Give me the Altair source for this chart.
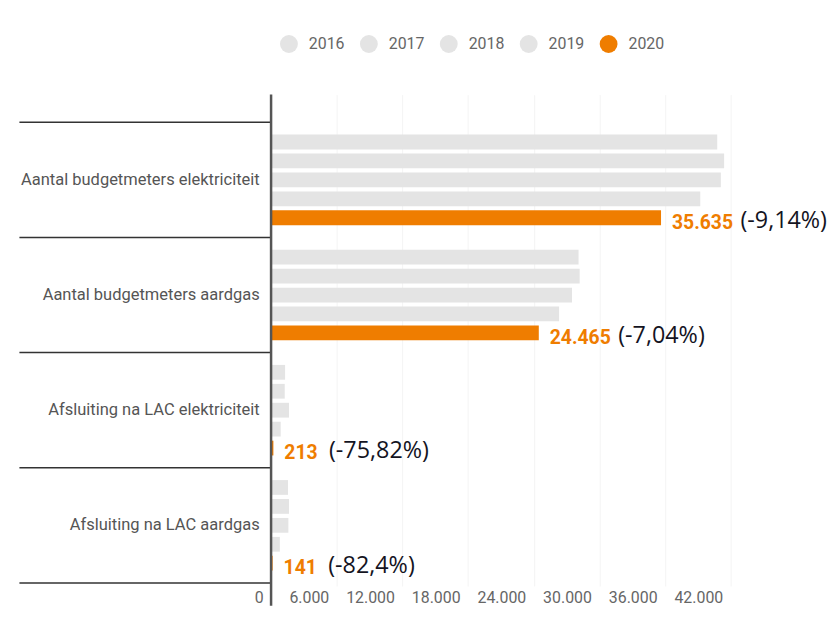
import altair as alt
import pandas as pd

categories = [
    "Aantal budgetmeters elektriciteit",
    "Aantal budgetmeters aardgas",
    "Afsluiting na LAC elektriciteit",
    "Afsluiting na LAC aardgas",
]
years = ["2016", "2017", "2018", "2019", "2020"]
v2016 = [40770, 28100, 1280, 1550]
v2017 = [41400, 28200, 1250, 1640]
v2018 = [41100, 27500, 1640, 1580]
v2019 = [39220, 26320, 881, 801]
v2020 = [35635, 24465, 213, 141]
pct_labels = ["(-9,14%)", "(-7,04%)", "(-75,82%)", "(-82,4%)"]
x_ticks = [0, 6000, 12000, 18000, 24000, 30000, 36000, 42000]
year_colors = ["#e4e4e4", "#e4e4e4", "#e4e4e4", "#e4e4e4", "#ef7d00"]

rows = []
for i, c in enumerate(categories):
    for y, vals in zip(years, [v2016, v2017, v2018, v2019, v2020]):
        rows.append({"cat": c, "year": y, "value": vals[i]})
df = pd.DataFrame(rows)

lab = pd.DataFrame({
    "cat": categories,
    "year": ["2020"] * len(categories),
    "value": v2020,
    "vlabel": [f"{v:,}".replace(",", ".") for v in v2020],
    "pct": pct_labels,
    "big": [v >= 1000 for v in v2020],
})
cats_df = pd.DataFrame({"cat": categories})

ysc = alt.Scale(domain=categories, paddingInner=0, paddingOuter=0.1336, align=0.9)
yosc = alt.Scale(domain=years, paddingInner=0.22, paddingOuter=0.65)
xsc = alt.Scale(domain=[0, 43000], nice=False)

Y = alt.Y("cat:N", sort=categories, scale=ysc,
          axis=alt.Axis(title=None, domain=False, ticks=False, labelFontSize=16.6,
                        labelColor="#555555", labelPadding=12, labelLimit=400,
                        labelFont="Roboto"))
YO = alt.YOffset("year:N", sort=years, scale=yosc)

bars = alt.Chart(df).mark_bar().encode(
    x=alt.X("value:Q", scale=xsc,
            axis=alt.Axis(values=x_ticks, title=None, domain=False, ticks=False,
                          grid=True, gridColor="#f4f4f4", gridWidth=1,
                          labelExpr="replace(format(datum.value, ','), ',', '.')",
                          labelAlign="right", labelOffset=-8, labelFontSize=16,
                          labelColor="#666666", labelPadding=4, labelFont="Roboto")),
    y=Y,
    yOffset=YO,
    color=alt.Color("year:N", sort=years,
                    scale=alt.Scale(domain=years, range=year_colors),
                    legend=alt.Legend(orient="none", direction="horizontal",
                                      legendX=9, legendY=-60, title=None,
                                      symbolType="circle", symbolSize=324,
                                      symbolStrokeWidth=0, symbolOpacity=1,
                                      labelFontSize=16, labelColor="#666666",
                                      labelFont="Roboto", labelOffset=11,
                                      columnPadding=15.5, padding=0)),
)

seps = alt.Chart(cats_df).mark_rule(color="#333333", strokeWidth=1.5).encode(
    y=alt.Y("cat:N", sort=categories, bandPosition=0),
    x=alt.value(-253.5), x2=alt.value(0),
)
sep_last = alt.Chart(cats_df).mark_rule(color="#333333", strokeWidth=1.5).encode(
    y=alt.Y("cat:N", sort=categories, bandPosition=1),
    x=alt.value(-253.5), x2=alt.value(0),
).transform_filter(alt.datum.cat == categories[-1])

yline = alt.Chart(pd.DataFrame({"a": [0]})).mark_rule(color="#555555", strokeWidth=2.5).encode(
    x=alt.value(0), y=alt.value(0), y2=alt.value(515),
)

vtext = alt.Chart(lab).mark_text(align="left", baseline="middle", dx=11, dy=5,
                                 font="Roboto", fontSize=19.5, fontWeight="bold",
                                 color="#ef7d00").encode(
    x=alt.X("value:Q"), y=alt.Y("cat:N", sort=categories), yOffset=alt.YOffset("year:N", sort=years),
    text="vlabel:N",
)
pbig = alt.Chart(lab).transform_filter(alt.datum.big).mark_text(
    align="left", baseline="middle", dx=80, dy=3, font="Open Sans", fontSize=23.5,
    color="#14141f").encode(
    x=alt.X("value:Q"), y=alt.Y("cat:N", sort=categories), yOffset=alt.YOffset("year:N", sort=years),
    text="pct:N",
)
psmall = alt.Chart(lab).transform_filter(~alt.datum.big).mark_text(
    align="left", baseline="middle", dx=56, dy=3, font="Open Sans", fontSize=23.5,
    color="#14141f").encode(
    x=alt.X("value:Q"), y=alt.Y("cat:N", sort=categories), yOffset=alt.YOffset("year:N", sort=years),
    text="pct:N",
)

chart = alt.layer(bars, seps, sep_last, yline, vtext, pbig, psmall).properties(
    width=474, height=495,
    autosize=alt.AutoSizeParams(type="none"),
    padding={"left": 265, "top": 85, "right": 86, "bottom": 30},
).configure_view(stroke=None)

chart.save("out.html", embed_options={"renderer": "svg", "actions": False})
